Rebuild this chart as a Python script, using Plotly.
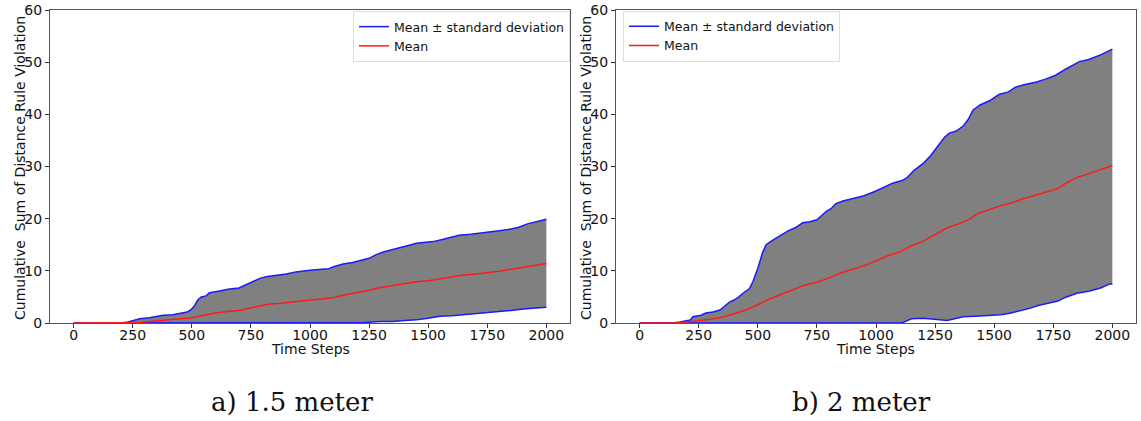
import plotly.graph_objects as go

# ---------------- data ----------------
# Panel a) 1.5 meter
a_upper_x = [0, 200, 230, 260, 280, 320, 350, 380, 420, 450, 480, 495, 510, 525, 540, 560, 575, 600, 630, 660, 700, 715, 740, 760, 790, 820, 860, 900, 940, 970, 1000, 1050, 1080, 1100, 1140, 1180, 1220, 1250, 1280, 1310, 1350, 1380, 1420, 1450, 1480, 1520, 1560, 1600, 1630, 1680, 1720, 1760, 1800, 1850, 1880, 1920, 1960, 2000]
a_upper_y = [0, 0, 0.2, 0.5, 0.8, 1.0, 1.3, 1.5, 1.6, 1.8, 2.1, 2.5, 3.2, 4.4, 5.0, 5.2, 5.8, 6.0, 6.3, 6.5, 6.7, 7.0, 7.6, 8.0, 8.6, 8.9, 9.1, 9.4, 9.8, 10.0, 10.1, 10.3, 10.4, 10.8, 11.3, 11.6, 12.0, 12.4, 13.1, 13.6, 14.1, 14.4, 14.9, 15.3, 15.4, 15.6, 16.0, 16.5, 16.8, 17.0, 17.2, 17.4, 17.7, 18.0, 18.3, 19.0, 19.4, 19.9]
a_mean_x = [0, 250, 280, 320, 380, 450, 500, 530, 560, 600, 650, 700, 730, 780, 820, 880, 950, 1000, 1050, 1100, 1150, 1200, 1250, 1300, 1350, 1400, 1450, 1500, 1550, 1600, 1650, 1700, 1750, 1800, 1850, 1900, 1930, 2000]
a_mean_y = [0, 0, 0.1, 0.3, 0.5, 0.7, 1.0, 1.3, 1.6, 1.9, 2.2, 2.4, 2.7, 3.2, 3.6, 3.8, 4.2, 4.4, 4.6, 4.9, 5.4, 5.8, 6.3, 6.8, 7.2, 7.6, 7.9, 8.1, 8.5, 8.9, 9.2, 9.4, 9.6, 9.9, 10.3, 10.6, 10.9, 11.4]
a_lower_x = [0, 1180, 1230, 1300, 1350, 1400, 1450, 1500, 1550, 1600, 1650, 1700, 1750, 1800, 1850, 1900, 1950, 2000]
a_lower_y = [0, 0, 0.1, 0.3, 0.3, 0.5, 0.6, 0.9, 1.3, 1.4, 1.6, 1.8, 1.9, 2.2, 2.4, 2.7, 2.8, 3.0]

# Panel b) 2 meter
b_upper_x = [0, 140, 170, 200, 215, 225, 260, 280, 310, 340, 360, 380, 400, 420, 440, 465, 480, 500, 520, 535, 560, 590, 610, 630, 660, 690, 720, 750, 770, 790, 810, 830, 860, 900, 950, 1000, 1030, 1070, 1110, 1130, 1160, 1200, 1230, 1260, 1290, 1310, 1340, 1370, 1390, 1410, 1440, 1480, 1520, 1560, 1590, 1630, 1680, 1720, 1760, 1800, 1840, 1860, 1900, 1950, 2000]
b_upper_y = [0, 0, 0.2, 0.5, 0.6, 1.2, 1.5, 1.9, 2.1, 2.5, 3.2, 4.0, 4.4, 5.0, 5.8, 6.6, 8.0, 10.5, 13.5, 15.0, 15.8, 16.6, 17.0, 17.7, 18.3, 19.2, 19.4, 19.8, 20.6, 21.4, 21.9, 22.9, 23.4, 23.9, 24.4, 25.3, 26.0, 26.8, 27.3, 27.8, 29.2, 30.6, 32.0, 33.8, 35.6, 36.4, 36.8, 37.8, 39.0, 40.8, 41.8, 42.6, 43.8, 44.3, 45.2, 45.7, 46.2, 46.8, 47.5, 48.6, 49.6, 50.1, 50.5, 51.4, 52.5]
b_mean_x = [0, 150, 200, 250, 300, 350, 400, 450, 500, 550, 600, 650, 700, 750, 800, 850, 900, 950, 1000, 1050, 1100, 1150, 1200, 1250, 1300, 1350, 1400, 1430, 1480, 1530, 1580, 1620, 1680, 1730, 1770, 1800, 1850, 1880, 1930, 2000]
b_mean_y = [0, 0, 0.2, 0.4, 0.7, 1.1, 1.8, 2.5, 3.5, 4.6, 5.5, 6.4, 7.3, 7.8, 8.6, 9.6, 10.3, 11.0, 11.9, 12.9, 13.6, 14.8, 15.7, 16.9, 18.2, 19.0, 20.0, 21.0, 21.8, 22.5, 23.1, 23.8, 24.6, 25.3, 25.8, 26.7, 27.9, 28.3, 29.1, 30.2]
b_lower_x = [0, 1110, 1130, 1150, 1200, 1240, 1270, 1300, 1330, 1370, 1420, 1480, 1530, 1570, 1610, 1650, 1690, 1740, 1770, 1800, 1850, 1900, 1950, 1990, 2000]
b_lower_y = [0, 0, 0.4, 0.8, 0.9, 0.8, 0.6, 0.5, 0.8, 1.2, 1.3, 1.4, 1.6, 1.9, 2.3, 2.8, 3.4, 3.9, 4.2, 4.9, 5.7, 6.1, 6.7, 7.5, 7.5]

x_ticks = [0, 250, 500, 750, 1000, 1250, 1500, 1750, 2000]
y_ticks = [0, 10, 20, 30, 40, 50, 60]
y_title = "Cumulative  Sum of Distance Rule Violation"
x_title = "Time Steps"
captions = ["a) 1.5 meter", "b) 2 meter"]
legend_band = "Mean \u00b1 standard deviation"
legend_mean = "Mean"

# ---------------- figure ----------------
W, H = 1141, 421
fig = go.Figure()

panels = [
    (a_upper_x, a_upper_y, a_mean_x, a_mean_y, a_lower_x, a_lower_y, "x", "y", "legend"),
    (b_upper_x, b_upper_y, b_mean_x, b_mean_y, b_lower_x, b_lower_y, "x2", "y2", "legend2"),
]
for ux, uy, mx, my, lx, ly, xa, ya, lg in panels:
    fig.add_trace(go.Scatter(
        x=list(ux) + list(lx)[::-1], y=list(uy) + list(ly)[::-1],
        fill="toself", fillcolor="#808080", line=dict(width=0),
        mode="lines", showlegend=False, hoverinfo="skip",
        xaxis=xa, yaxis=ya))
    fig.add_trace(go.Scatter(x=lx, y=ly, mode="lines",
                             line=dict(color="#1a1aff", width=1.5),
                             showlegend=False, xaxis=xa, yaxis=ya))
    fig.add_trace(go.Scatter(x=ux, y=uy, mode="lines", name=legend_band,
                             line=dict(color="#1a1aff", width=1.5),
                             legend=lg, xaxis=xa, yaxis=ya))
    fig.add_trace(go.Scatter(x=mx, y=my, mode="lines", name=legend_mean,
                             line=dict(color="#ff1a1a", width=1.5),
                             legend=lg, xaxis=xa, yaxis=ya))

ytop = 1 - 10 / H
ybot = 1 - 323 / H
axis_common = dict(showgrid=False, zeroline=False, showline=True, mirror=True,
                   linecolor="#555", linewidth=1, ticks="outside", ticklen=4,
                   tickcolor="#333", automargin=False,
                   tickfont=dict(family="DejaVu Sans", size=14, color="#111"))

fig.update_layout(
    width=W, height=H, autosize=False,
    margin=dict(l=0, r=0, t=0, b=0, pad=0, autoexpand=False),
    paper_bgcolor="white", plot_bgcolor="white",
    font=dict(family="DejaVu Sans", size=14, color="#111"),
    xaxis=dict(domain=[50 / W, 570 / W], range=[-100, 2100], tickvals=x_ticks,
               anchor="y", ticklabelstandoff=-5, **axis_common),
    yaxis=dict(domain=[ybot, ytop], range=[0, 60], tickvals=y_ticks,
               anchor="x", **axis_common),
    xaxis2=dict(domain=[616 / W, 1136 / W], range=[-100, 2100], tickvals=x_ticks,
                anchor="y2", ticklabelstandoff=-5, **axis_common),
    yaxis2=dict(domain=[ybot, ytop], range=[0, 60], tickvals=y_ticks,
                anchor="x2", **axis_common),
    legend=dict(x=570 / W, y=1 - 11 / H, xanchor="right", yanchor="top",
                bgcolor="white", bordercolor="#dddddd", borderwidth=1,
                font=dict(family="DejaVu Sans", size=12.5, color="#111"),
                tracegroupgap=0, itemwidth=30),
    legend2=dict(x=623 / W, y=1 - 10.5 / H, xanchor="left", yanchor="top",
                 bgcolor="white", bordercolor="#dddddd", borderwidth=1,
                 font=dict(family="DejaVu Sans", size=12.5, color="#111"),
                 tracegroupgap=0, itemwidth=30),
)

annotations = []
for cx, tx in [(20, 310), (586, 876)]:
    annotations.append(dict(x=cx / W, y=1 - 168 / H, xref="paper", yref="paper",
                            text=y_title, textangle=-90, showarrow=False,
                            font=dict(family="DejaVu Sans", size=14, color="#111"),
                            xanchor="center", yanchor="middle"))
    annotations.append(dict(x=tx / W, y=1 - 349 / H, xref="paper", yref="paper",
                            text=x_title, showarrow=False,
                            font=dict(family="DejaVu Sans", size=14, color="#111"),
                            xanchor="center", yanchor="middle"))
for cx, cap in zip([292, 861], captions):
    annotations.append(dict(x=cx / W, y=1 - 402 / H, xref="paper", yref="paper",
                            text=cap, showarrow=False,
                            font=dict(family="DejaVu Serif", size=26, color="#111"),
                            xanchor="center", yanchor="middle"))
fig.update_layout(annotations=annotations)

fig.write_html("out.html")
